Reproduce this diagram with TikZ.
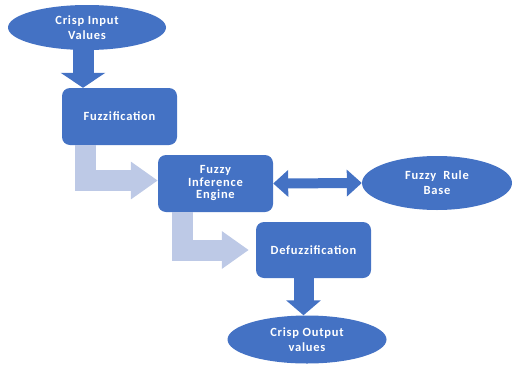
\documentclass[tikz,border=0pt]{standalone}
\usepackage{fontspec}
\setmainfont{Carlito}[LetterSpace=6]
\usetikzlibrary{shapes.geometric}
\usetikzlibrary{arrows.meta}

\definecolor{boxblue}{HTML}{4472C4}
\definecolor{paleblue}{HTML}{BDC9E6}

\begin{document}
\begin{tikzpicture}[x=1pt,y=-1pt,
  step box/.style={rectangle,rounded corners=8pt,fill=boxblue,text=white,font=\bfseries\fontsize{12.5}{12.5}\selectfont,align=center,minimum width=115pt,minimum height=57pt,inner sep=0pt},
  end oval/.style={ellipse,fill=boxblue,text=white,font=\bfseries\fontsize{12.5}{15}\selectfont,align=center,inner sep=0pt},
  fat arrow/.style={draw=boxblue,line width=21pt,-{Triangle[length=15pt,width=44pt]}},
  pale arrow/.style={draw=paleblue,line width=21pt,-{Triangle[length=27pt,width=36pt]}},
  both arrow/.style={draw=boxblue,line width=10pt,{Triangle[length=15pt,width=26pt]}-{Triangle[length=15pt,width=26pt]}}]

      \useasboundingbox (0,0) rectangle (513,364);

      \node[end oval,minimum width=158pt,minimum height=45pt] at (87,27.5) (in) {Crisp Input\\Values};
      \node[step box] at (119.5,116.5) (fuzz) {Fuzzification};
      \node[step box] at (215.5,183.5) (fie) {Fuzzy\\Inference\\Engine};
      \node[end oval,minimum width=150pt,minimum height=54pt] at (437,183) (rule) {Fuzzy~~Rule\\Base};
      \node[step box,minimum height=56pt] at (313.5,250) (defuzz) {Defuzzification};
      \node[end oval,minimum width=159pt,minimum height=48pt] at (307,339.5) (out) {Crisp Output\\values};

      \draw[fat arrow] ([xshift=-4pt,yshift=6pt]in.south) -- ([xshift=-4pt]in.south |- fuzz.north);
      \draw[pale arrow] ([xshift=24pt]fuzz.south west) |- ([yshift=3pt]fie.west);
      \draw[both arrow] (fie.east) -- (rule.west);
      \draw[pale arrow] ([xshift=25pt]fie.south west) |- ([xshift=-7pt]defuzz.west);
      \draw[fat arrow,-{Triangle[length=15pt,width=34pt]},line width=20pt] ([xshift=-10pt]defuzz.south) -- ([xshift=-10pt]defuzz.south |- out.north);

\end{tikzpicture}
\end{document}
